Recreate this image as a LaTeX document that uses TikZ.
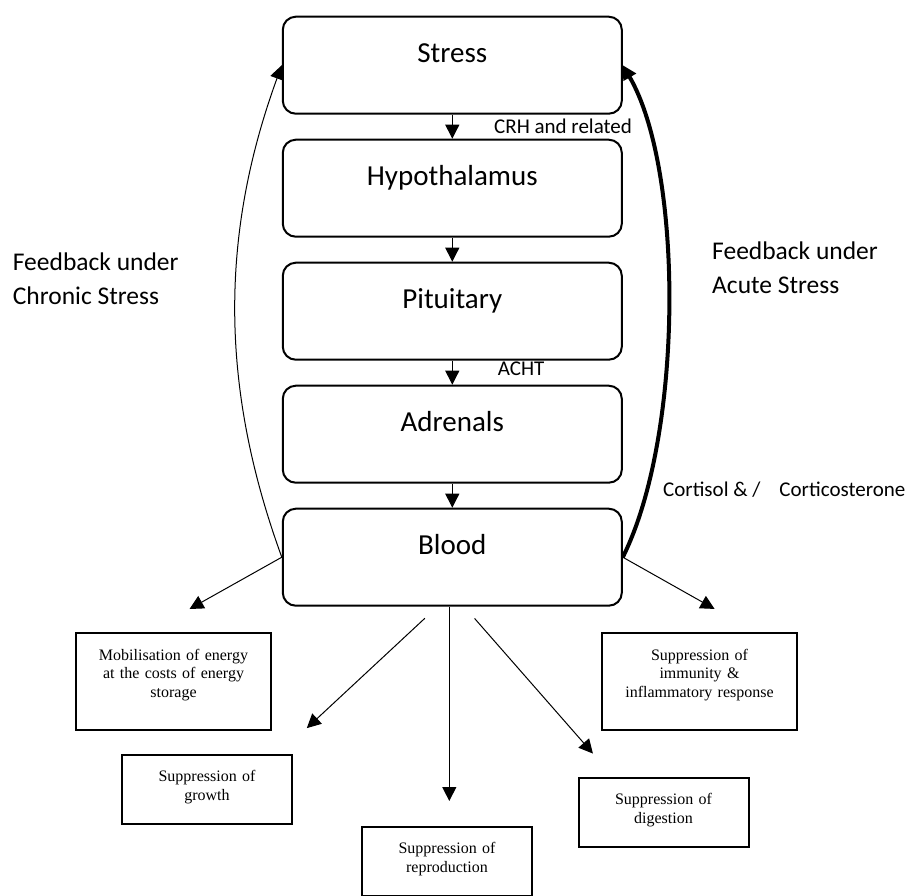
\documentclass[tikz,border=0pt]{standalone}
\usepackage{fontspec}
\setmainfont{Liberation Serif}
\newfontfamily\carlito{Carlito}
\usetikzlibrary{positioning,arrows.meta}
\tikzset{
  box/.style={draw, line width=2pt, rounded corners=13pt, minimum width=339pt,
    minimum height=97pt, inner sep=0pt, text height=46pt, text depth=51pt,
    font=\carlito\fontsize{29}{35}\selectfont},
  effect/.style={draw, line width=2pt, inner sep=0pt, align=center,
    font=\fontsize{16}{18.5}\selectfont},
  bigeffect/.style={effect, text width=195pt, minimum height=97pt, text height=27pt, text depth=70pt},
  smalleffect/.style={effect, text width=170pt, minimum height=69pt, text height=26.5pt, text depth=42.5pt},
  lbl/.style={inner sep=0pt, font=\carlito\fontsize{21}{25}\selectfont},
  fb/.style={inner sep=0pt, align=left, font=\carlito\fontsize{25.5}{34.5}\selectfont},
  arr/.style={-{Triangle[width=14pt,length=14pt]}, line width=1pt},
}
\begin{document}
\begin{tikzpicture}[x=1pt, y=1pt]
  \useasboundingbox (0,0) rectangle (911,-895);

  % ---- HPA axis ----
  \node[box] (stress) at (452.3,-65.2) {Stress};
  \node[box, below=24pt of stress] (hypo) {Hypothalamus};
  \node[box, below=24pt of hypo] (pit) {Pituitary};
  \node[box, below=24pt of pit] (adren) {Adrenals};
  \node[box, below=24pt of adren] (blood) {Blood};

  \draw[arr] (stress.south) -- (hypo.north);
  \draw[arr] (hypo.south) -- (pit.north);
  \draw[arr] (pit.south) -- (adren.north);
  \draw[arr] (adren.south) -- (blood.north);

  \node[lbl, anchor=base west] (crh) at (494,-133) {CRH and related};
  \node[lbl, anchor=base west] (acht) at (497.7,-375) {ACHT};
  \node[lbl, anchor=base west] (cort) at (663,-496) {Cortisol \& /\hspace{19pt}Corticosterone};

  % ---- Feedback loops ----
  \node[fb, anchor=base west] (chronic) at (12.7,-304.5) {Feedback under\\Chronic Stress};
  \node[fb, anchor=base west] (acute) at (712,-293.8) {Feedback under\\Acute Stress};
  \draw[arr] (blood.west) .. controls +(-62,170) and +(-62,-170) .. (stress.west);
  \draw[arr, line width=4pt] (blood.east) .. controls +(61,122) and +(61,-105) .. (stress.east);

  % ---- Effects ----
  \node[bigeffect] (mobil) at (173.5,-681.5) {Mobilisation of energy\\at the costs of energy\\storage};
  \node[bigeffect] (immun) at (699.5,-681.5) {Suppression of\\immunity \&\\inflammatory response};
  \node[smalleffect] (growth) at (207,-789.5) {Suppression of\\growth};
  \node[smalleffect] (digest) at (663.5,-812.5) {Suppression of\\digestion};
  \node[smalleffect] (repro) at (447,-861.5) {Suppression of\\reproduction};

  \draw[arr, shorten >=47pt] (blood.west) -- ([xshift=-25pt]mobil.north);
  \draw[arr, shorten >=47pt] (blood.east) -- ([xshift=56pt]immun.north);
  \draw[arr, shorten <=17pt, shorten >=38pt] ([xshift=-15pt]blood.south) -- ([xshift=-14pt]growth.north east);
  \draw[arr, shorten <=15.6pt, shorten >=31.2pt] ([xshift=12pt]blood.south) -- ([xshift=36pt]digest.north west);
  \draw[arr, shorten >=25pt] ([xshift=-3pt]blood.south) -- ([xshift=-3pt]blood.south |- repro.north);
\end{tikzpicture}
\end{document}
